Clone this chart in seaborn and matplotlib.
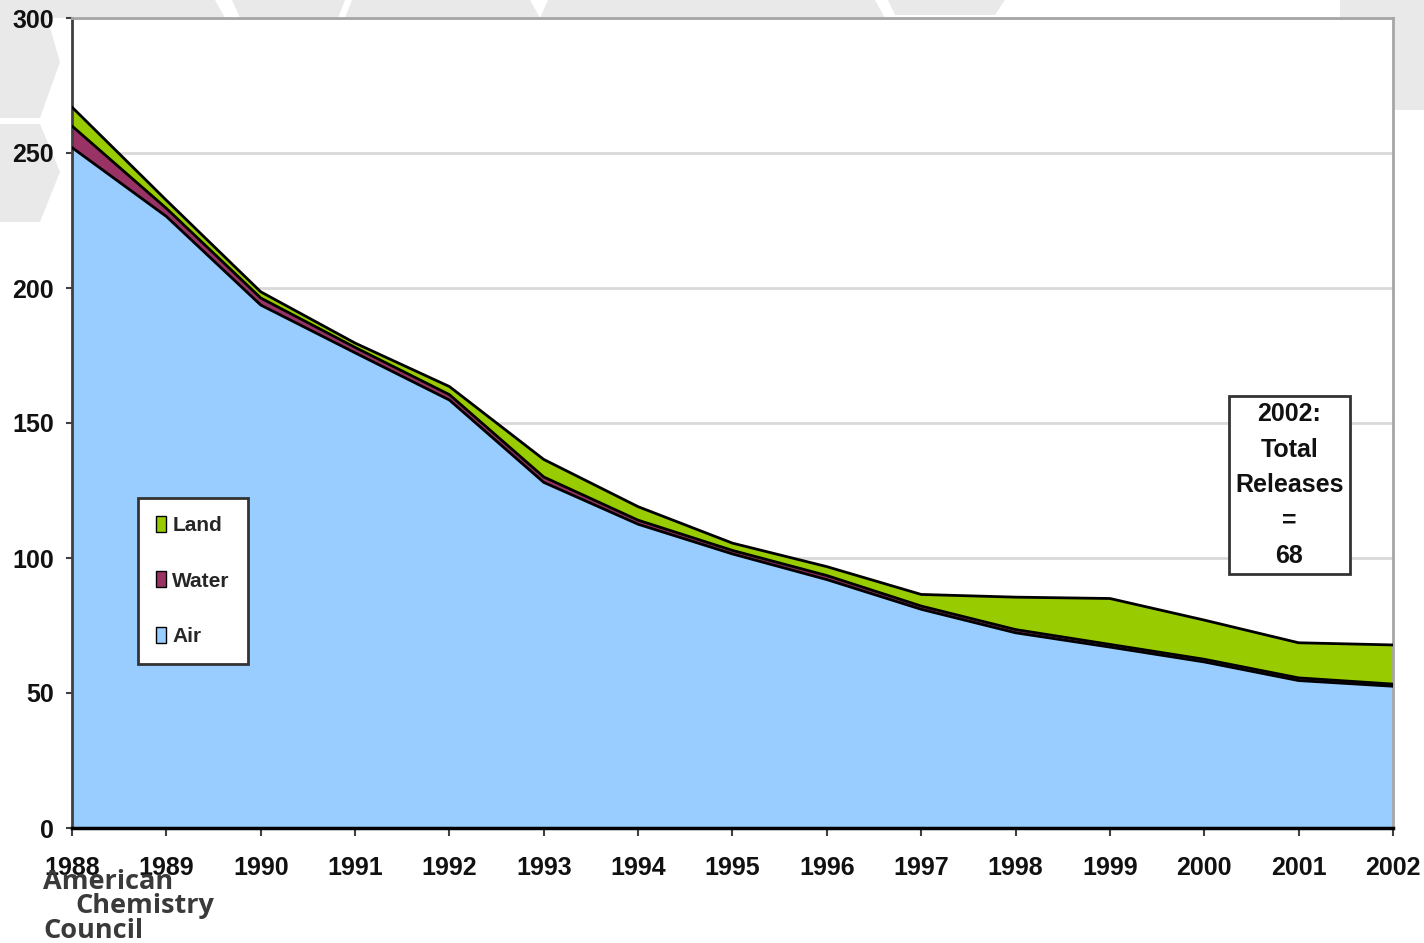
import numpy as np
import pandas as pd
import matplotlib
matplotlib.use("Agg")
import matplotlib.pyplot as plt
import seaborn as sns
from matplotlib.patches import Polygon, Patch

# ---------------- data ----------------
years = list(range(1988, 2003))
air = [252, 226.5, 193.7, 176, 158.5, 128, 112.5, 101.5, 92, 81, 72.3, 67, 61.5, 54.6, 52.5]
water = [8, 3, 2.6, 2, 2, 2, 1.5, 1.3, 1.5, 1.2, 1.2, 1, 1, 1, 0.8]
land = [7, 3, 2.3, 1.6, 3, 6.5, 5, 2.7, 3.3, 4.3, 12, 17, 14.5, 13, 14.5]
series_names = ["Air", "Water", "Land"]
series_colors = ["#99CCFF", "#993366", "#99CC00"]
yticks = [0, 50, 100, 150, 200, 250, 300]
annotation_lines = ["2002:", "Total", "Releases", "=", "68"]
logo_lines = ["American", "Chemistry", "Council"]

# ---------------- style ----------------
sns.set_theme(style="white")
plt.rcParams["font.family"] = ["Liberation Sans", "DejaVu Sans"]
plt.rcParams["font.weight"] = "bold"

W, H = 1424, 943
fig = plt.figure(figsize=(W / 100, H / 100), dpi=100)
fig.patch.set_facecolor("white")


def px(points):
    return [(x / W, 1 - y / H) for x, y in points]


bg = "#E8E9E8"
bg_shapes = [
    [(0, 0), (42, 0), (60, 62), (40, 118), (0, 118)],
    [(0, 124), (40, 124), (60, 172), (40, 222), (0, 222)],
    [(0, 0), (215, 0), (225, 18), (0, 18)],
    [(232, 0), (345, 0), (338, 18), (240, 18)],
    [(352, 0), (530, 0), (540, 18), (345, 18)],
    [(548, 0), (875, 0), (885, 18), (540, 18)],
    [(888, 0), (1005, 0), (995, 15), (895, 15)],
    [(1340, 0), (1424, 0), (1424, 110), (1395, 110), (1395, 18), (1340, 18)],
]
for shp in bg_shapes:
    fig.add_artist(Polygon(px(shp), closed=True, transform=fig.transFigure,
                           facecolor=bg, edgecolor="none", zorder=-10))

ax = fig.add_axes([72 / W, 1 - 828 / H, (1393 - 72) / W, (828 - 18) / H])
ax.set_facecolor("white")

# stacked areas
ax.stackplot(years, air, water, land, colors=series_colors, linewidth=0, zorder=2)

# black boundary lines of each layer via seaborn
cum1 = np.array(air)
cum2 = cum1 + np.array(water)
cum3 = cum2 + np.array(land)
edges = pd.DataFrame({
    "year": years * 3,
    "value": np.concatenate([cum1, cum2, cum3]),
    "layer": ["Air"] * len(years) + ["Water"] * len(years) + ["Land"] * len(years),
})
sns.lineplot(data=edges, x="year", y="value", units="layer", estimator=None,
             color="black", linewidth=2.0, ax=ax, legend=False, zorder=3)

ax.set_xlim(years[0], years[-1])
ax.set_ylim(yticks[0], yticks[-1])
ax.set_xticks(years)
ax.set_xticklabels([str(y) for y in years])
ax.set_yticks(yticks)
ax.set_xlabel("")
ax.set_ylabel("")

ax.yaxis.grid(True, color="#D9D9D9", linewidth=2)
ax.xaxis.grid(False)
ax.set_axisbelow(True)

ax.spines["left"].set_color("#404040")
ax.spines["left"].set_linewidth(2)
ax.spines["bottom"].set_color("black")
ax.spines["bottom"].set_linewidth(2.5)
for s in ("top", "right"):
    ax.spines[s].set_color("#A6A6A6")
    ax.spines[s].set_linewidth(2)

ax.tick_params(axis="x", direction="out", length=6, width=1.5, color="#404040",
               pad=14, labelsize=18, labelcolor="#111111", bottom=True)
ax.tick_params(axis="y", direction="out", length=4, width=1.5, color="#404040",
               pad=9, labelsize=18, labelcolor="#111111", left=True)

# legend
handles = [Patch(facecolor=series_colors[i], edgecolor="black", linewidth=1)
           for i in (2, 1, 0)]
labels = [series_names[i] for i in (2, 1, 0)]
leg = ax.legend(handles, labels, loc="upper left",
                bbox_to_anchor=(66 / 1321, (828 - 498) / 810), borderaxespad=0,
                frameon=True, fancybox=False, edgecolor="#333333", framealpha=1,
                fontsize=15, handlelength=0.5, handleheight=0.8,
                handletextpad=0.3, labelspacing=1.75, borderpad=0.85)
leg.get_frame().set_linewidth(2)
leg.set_zorder(6)

# annotation box
ax.text(2000.9, 127.0, "\n".join(annotation_lines), ha="center", va="center",
        multialignment="center", fontsize=18, linespacing=1.6, color="#111111",
        bbox=dict(boxstyle="square,pad=0.25", fc="white", ec="#333333", lw=2),
        zorder=7)

# logo text
logo_pos = [(43, 889), (75, 913), (43, 938)]
for txt, (x, y) in zip(logo_lines, logo_pos):
    fig.text(x / W, 1 - y / H, txt, fontsize=19.5, family=["Open Sans", "DejaVu Sans"],
             fontweight="bold", color="#3a3a3a", ha="left", va="baseline", zorder=10)

fig.savefig("out.png", dpi=100, facecolor=fig.get_facecolor())
